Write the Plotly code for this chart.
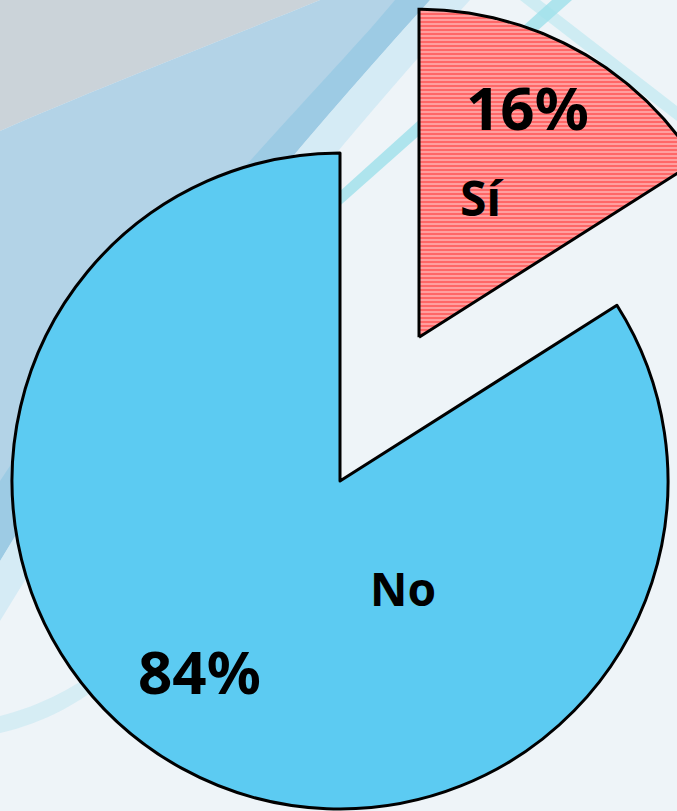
import numpy as np
import plotly.graph_objects as go

# ---- data ----
labels = ["Sí", "No"]
values = [16, 84]
pct_text = [f"{v}%" for v in values]

# ---- geometry / style (pixel-unit axes) ----
W, H = 677, 811
cx, cy, R = 340, 330, 328          # pie centre (y measured from bottom) and radius
pull_si = 0.5
no_color = "#5CCBF2"
red = "#FF0A0A"
lw = 3

fig = go.Figure()

# Background decoration (soft swirl-like bands)
bg_shapes = [
    dict(path=f"M0,{H} L320,{H} C220,770 90,720 0,680 Z", fillcolor="#CBD3D9", opacity=1),
    dict(path=f"M0,680 C90,720 220,770 320,{H} L430,{H} C330,700 150,500 0,250 Z",
         fillcolor="#AFD1E6", opacity=0.95),
    dict(path=f"M0,330 C150,560 320,720 395,{H} L430,{H} C330,700 150,500 0,250 Z",
         fillcolor="#8EC6E3", opacity=0.6),
    dict(path=f"M0,250 C150,500 330,700 430,{H} L470,{H} C360,690 170,470 0,190 Z",
         fillcolor="#CBE7F3", opacity=0.7),
    dict(path=f"M318,600 L334,600 L572,{H} L552,{H} Z", fillcolor="#5FD0E0", opacity=0.45),
    dict(path=f"M520,{H} L540,{H} L{W},705 L{W},690 Z", fillcolor="#9EE0EC", opacity=0.4),
    dict(path="M0,95 C40,105 80,125 115,155 L125,145 C85,110 45,88 0,78 Z",
         fillcolor="#A8E0EF", opacity=0.35),
]
shapes = []
for s in bg_shapes:
    shapes.append(dict(type="path", xref="x", yref="y", layer="below",
                       line=dict(width=0), **s))

# Main pie (No slice drawn by the pie trace, Sí slice left transparent)
fig.add_trace(go.Pie(
    labels=labels, values=values, sort=False, direction="clockwise", rotation=0,
    marker=dict(colors=["rgba(0,0,0,0)", no_color],
                line=dict(color=["rgba(0,0,0,0)", "black"], width=[0, lw])),
    textinfo="none", hoverinfo="label+percent", showlegend=False,
    domain=dict(x=[(cx - R) / W, (cx + R) / W], y=[(cy - R) / H, (cy + R) / H]),
))

# Exploded Sí slice computed from the same values
frac = np.array(values, dtype=float) / sum(values)
a0, a1 = 0.0, frac[0] * 2 * np.pi
mid = (a0 + a1) / 2
ox, oy = cx + pull_si * R * np.sin(mid), cy + pull_si * R * np.cos(mid)
th = np.linspace(a0, a1, 120)
xs = np.concatenate([[ox], ox + R * np.sin(th), [ox]])
ys = np.concatenate([[oy], oy + R * np.cos(th), [oy]])
fig.add_trace(go.Scatter(
    x=xs, y=ys, mode="lines", fill="toself",
    fillcolor="#FFC4C4",
    fillpattern=dict(shape="-", fgcolor=red, bgcolor="#FFC4C4", size=4, solidity=0.7),
    line=dict(color="black", width=lw), hoverinfo="skip", showlegend=False,
    name=labels[0],
))

font_base = dict(family="Noto Sans", color="black", weight=700)
annots = [
    dict(x=527, y=H - 107, text=pct_text[0], font=dict(size=60, **font_base)),
    dict(x=481, y=H - 197, text=labels[0], font=dict(size=48, **font_base)),
    dict(x=403, y=H - 588, text=labels[1], font=dict(size=46, **font_base)),
    dict(x=199, y=H - 671, text=pct_text[1], font=dict(size=60, **font_base)),
]
for a in annots:
    a.update(xref="x", yref="y", showarrow=False, xanchor="center", yanchor="middle")

fig.update_layout(
    width=W, height=H, margin=dict(l=0, r=0, t=0, b=0),
    paper_bgcolor="#EEF4F8", plot_bgcolor="rgba(0,0,0,0)",
    xaxis=dict(range=[0, W], visible=False, fixedrange=True),
    yaxis=dict(range=[0, H], visible=False, fixedrange=True),
    shapes=shapes, annotations=annots,
)

fig.write_html("out.html", config={"displayModeBar": False},
               post_script="document.body.style.margin='0';")
